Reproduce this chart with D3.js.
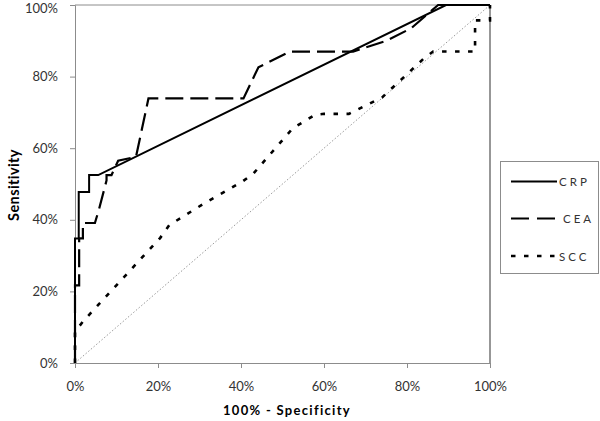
<!DOCTYPE html>
<html><head><meta charset="utf-8">
<script src="https://cdn.jsdelivr.net/npm/d3@7"></script>
<style>body{margin:0;background:#fff}svg{display:block}</style>
</head><body>
<svg id="c" width="600" height="421"></svg>
<script>
// Data (percentages): [100% - specificity, sensitivity]
const crp = [[0,0],[0,34.8],[0.9,34.8],[0.9,47.8],[3.4,47.8],[3.4,52.5],[5.6,52.5],[89.4,100],[100,100]];
const cea = [[0,0],[0,21.7],[1,21.7],[1,34.8],[1.9,34.8],[1.9,39.1],[4.8,39.1],[5.8,43],[7.6,51],[7.6,52.5],[8.8,52.5],[10.4,56.5],[14.7,57.6],[17.7,73.9],[40.6,73.9],[44.2,82.6],[51.8,87],[67,87],[75,90],[81,93.5],[87.5,100],[100,100]];
const scc = [[0,0],[0,8.7],[2,11.7],[20.5,34.9],[22.7,38.5],[31.3,44.7],[40.2,50.6],[42.9,52.8],[52.5,65.6],[55,67.3],[57.8,69.3],[60,69.6],[66,69.6],[74,74.2],[84,85],[86.3,87],[96.4,87],[96.4,95.7],[100,95.7],[100,100]];
const refLine = [[0,0],[100,100]];
const ticks = [0,20,40,60,80,100];
const seriesNames = ["CRP","CEA","SCC"];

const svg = d3.select("#c");
const x = d3.scaleLinear().domain([0,100]).range([75,490]);
const y = d3.scaleLinear().domain([0,100]).range([363,5]);
const font = "Lato, 'Open Sans', sans-serif";

// plot border
svg.append("line").attr("x1",75).attr("x2",490).attr("y1",5).attr("y2",5).attr("stroke","#8c8c8c").attr("stroke-width",1);
svg.append("line").attr("x1",490).attr("x2",490).attr("y1",5).attr("y2",363).attr("stroke","#8c8c8c").attr("stroke-width",1.8);

const fmt = d => d + "%";
const xAxis = svg.append("g").attr("transform","translate(0,363)")
  .call(d3.axisBottom(x).tickValues(ticks).tickFormat(fmt).tickSize(5).tickPadding(14));
const yAxis = svg.append("g").attr("transform","translate(75,0)")
  .call(d3.axisLeft(y).tickValues(ticks).tickFormat(fmt).tickSize(5).tickPadding(12));
[xAxis,yAxis].forEach(g=>{
  g.selectAll("path,line").attr("stroke","#8c8c8c");
  g.selectAll("text").attr("font-family",font).attr("font-size",13).attr("fill","#333");
});
// keep the top y label inside the picture
yAxis.selectAll(".tick").filter(d=>d===100).select("text").attr("dy","0.55em");

const line = d3.line().x(d=>x(d[0])).y(d=>y(d[1]));
svg.append("path").datum(refLine).attr("d",line).attr("fill","none")
  .attr("stroke","#999").attr("stroke-width",1).attr("stroke-dasharray","1.5,2");
svg.append("path").datum(scc).attr("d",line).attr("fill","none")
  .attr("stroke","#000").attr("stroke-width",2.6).attr("stroke-dasharray","4.5,8.5");
svg.append("path").datum(cea).attr("d",line).attr("fill","none")
  .attr("stroke","#000").attr("stroke-width",2.2).attr("stroke-dasharray","18,7");
svg.append("path").datum(crp).attr("d",line).attr("fill","none")
  .attr("stroke","#000").attr("stroke-width",2);

// axis titles
svg.append("text").attr("x",287).attr("y",415).attr("text-anchor","middle")
  .attr("font-family",font).attr("font-weight","bold").attr("font-size",13)
  .attr("letter-spacing",1.3).attr("fill","#000").text("100% - Specificity");
svg.append("text").attr("transform","translate(19,185) rotate(-90)").attr("text-anchor","middle")
  .attr("font-family",font).attr("font-weight","bold").attr("font-size",14.5)
  .attr("letter-spacing",0.4).attr("fill","#000").text("Sensitivity");

// legend
const lg = svg.append("g");
lg.append("rect").attr("x",500.5).attr("y",161.5).attr("width",98).attr("height",112)
  .attr("fill","#fff").attr("stroke","#8c8c8c");
const styles = [{w:2,d:null},{w:2.2,d:"18,8"},{w:2.6,d:"4.5,8.5"}];
const ly = [181.5,218.5,256];
seriesNames.forEach((n,i)=>{
  lg.append("line").attr("x1",511).attr("x2",557).attr("y1",ly[i]).attr("y2",ly[i])
    .attr("stroke","#000").attr("stroke-width",styles[i].w).attr("stroke-dasharray",styles[i].d);
  lg.append("text").attr("x", i===1?563:559).attr("y",ly[i]+4.5).attr("font-family",font)
    .attr("font-size",11.5).attr("letter-spacing",3).attr("fill","#333").text(n);
});
</script>
</body></html>
